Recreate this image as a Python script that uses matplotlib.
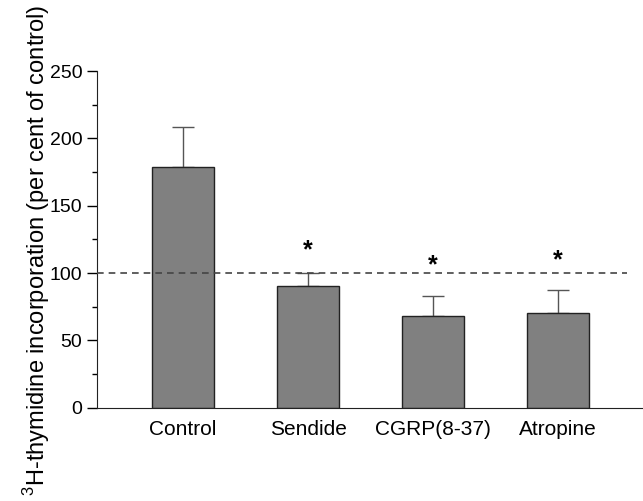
import matplotlib
matplotlib.use("Agg")
import matplotlib.pyplot as plt
import numpy as np

categories = ["Control", "Sendide", "CGRP(8-37)", "Atropine"]
values = [178.5, 90.1, 68.4, 70.7]
errors = [30.2, 9.9, 14.3, 16.5]
stars = [None, 116.8, 105.7, 109.4]
reference = 100

plt.rcParams['font.family'] = ['Liberation Sans', 'DejaVu Sans']
plt.rcParams['mathtext.fontset'] = 'custom'
plt.rcParams['mathtext.rm'] = 'Liberation Sans'

fig = plt.figure(figsize=(6.43, 5.01), dpi=100)
ax = fig.add_axes([0.1509, 0.1862, 0.8491, 0.672])

x = np.arange(len(categories))
ax.bar(x, values, width=0.5, color='#808080', edgecolor='#222222', linewidth=1.0, zorder=2)
ax.errorbar(x, values, yerr=[np.zeros(len(errors)), errors], fmt='none',
            ecolor='#555555', elinewidth=1.0, capsize=8, capthick=1.0, zorder=1)
ax.plot([-0.688, 3.55], [reference, reference], linestyle=(0, (4, 3)), color='#444444', linewidth=1.2, zorder=3)
for xi, s in zip(x, stars):
    if s is not None:
        ax.text(xi, s, '*', ha='center', va='center', fontsize=18, fontweight='bold')

ax.set_xlim(-0.688, 3.68)
ax.set_ylim(0, 250)
ax.set_yticks([0, 50, 100, 150, 200, 250])
ax.set_yticks([25, 75, 125, 175, 225], minor=True)
ax.set_xticks(x)
ax.set_xticklabels(categories, fontsize=15)
ax.tick_params(axis='x', length=0, pad=9)
ax.tick_params(axis='y', which='major', length=7, width=1, labelsize=14, pad=3.5, direction='out')
ax.tick_params(axis='y', which='minor', length=3.5, width=1, direction='out')
for sp in ['top', 'right']:
    ax.spines[sp].set_visible(False)
ax.spines['left'].set_color('#222222')
ax.spines['bottom'].set_color('#222222')
ax.set_ylabel(r'$^{3}$H-thymidine incorporation (per cent of control)', fontsize=17)
ax.yaxis.set_label_coords(-0.082, 0.468)

fig.savefig('out.png', dpi=100)
